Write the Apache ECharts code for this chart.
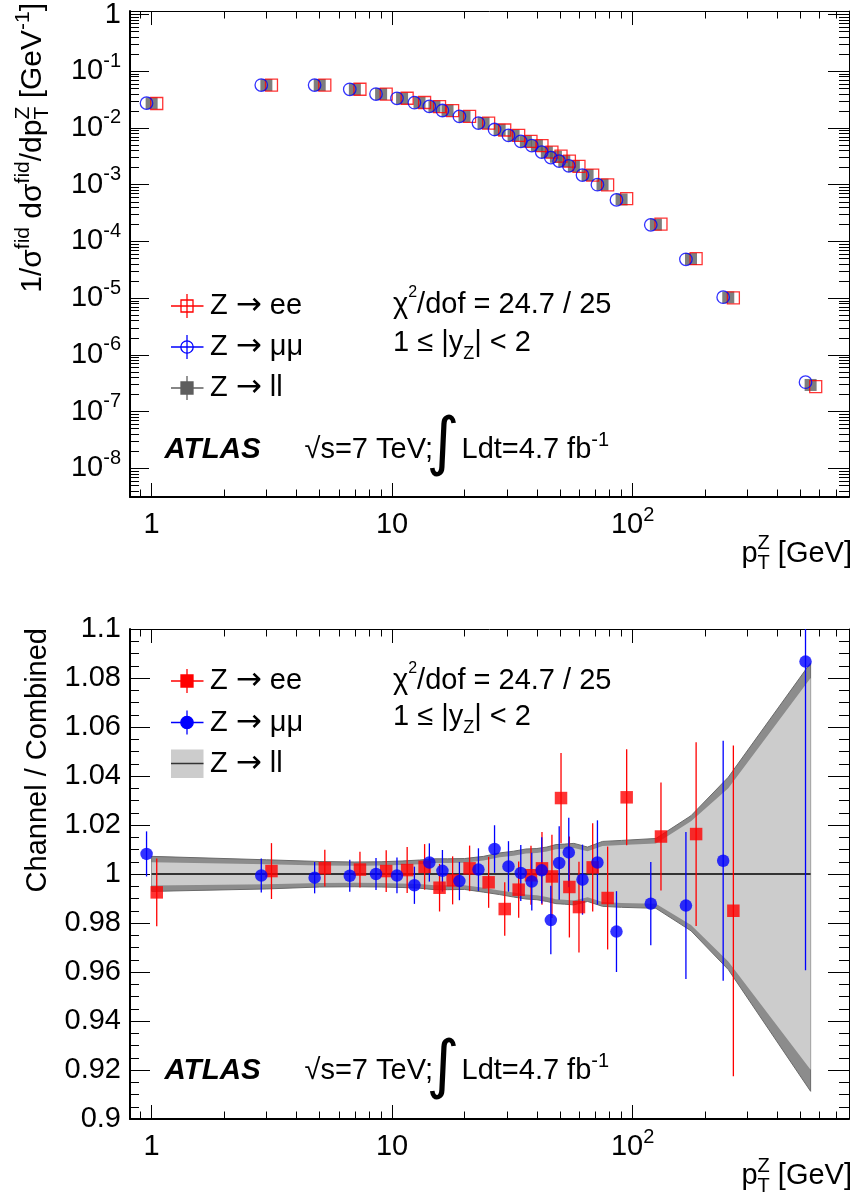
<!DOCTYPE html>
<html><head><meta charset="utf-8">
<script src="https://cdn.jsdelivr.net/npm/echarts@6/dist/echarts.min.js"></script>
<style>html,body{margin:0;padding:0;background:#fff}#c{width:855px;height:1201px}</style>
</head><body><div id="c"></div>
<script>
// ---------------- data ----------------
const ptBins = [1,3,5,7,9,11,13,15,17,20,24,28,32,36,40,44,48,52,57,65,75,90,125,175,250,550];
const xsecLL = [0.0272,0.0570,0.0570,0.0480,0.0396,0.0333,0.0280,0.0239,0.0203,0.0160,0.0122,0.0093,0.0074,0.0058,0.0049,0.00374,0.0031,0.0026,0.00213,0.00148,0.00100,0.00055,0.000198,4.9e-5,1.03e-5,2.95e-7];
const xsecEE = [0.0270,0.0571,0.0571,0.0481,0.0396,0.0334,0.0281,0.0238,0.0202,0.0160,0.0122,0.0092,0.0074,0.0058,0.0049,0.00374,0.0032,0.0026,0.00210,0.00148,0.00099,0.00057,0.000201,4.98e-5,1.01e-5,2.75e-7];
const xsecMM = [0.0274,0.0570,0.0569,0.0480,0.0396,0.0333,0.0279,0.0240,0.0203,0.0160,0.0122,0.0094,0.0074,0.0058,0.0049,0.00375,0.0030,0.0026,0.00215,0.00148,0.00100,0.00054,0.000196,4.84e-5,1.04e-5,3.3e-7];

const ratioEE = [0.9925,1.0012,1.0024,1.0018,1.0012,1.0016,1.0029,0.9944,0.9974,1.0023,0.9966,0.9857,0.9936,0.9995,1.0023,0.9990,1.0310,0.9947,0.9865,1.0027,0.9902,1.0313,1.0153,1.0163,0.9850,null];
const errEE   = [0.0138,0.0114,0.0075,0.0073,0.0085,0.0094,0.0093,0.0097,0.0098,0.0093,0.0104,0.0109,0.0115,0.0120,0.0148,0.0170,0.0184,0.0206,0.0185,0.0180,0.0210,0.0196,0.0220,0.0375,0.0675,null];
const ratioMM = [1.0082,0.9994,0.9985,0.9993,1.0000,0.9994,0.9954,1.0047,1.0013,0.9971,1.0018,1.0102,1.0031,1.0004,0.9969,1.0015,0.9812,1.0045,1.0088,0.9977,1.0047,0.9765,0.9879,0.9871,1.0054,1.0867];
const errMM   = [0.0092,0.0069,0.0064,0.0065,0.0065,0.0073,0.0076,0.0078,0.0085,0.0078,0.0087,0.0097,0.0103,0.0114,0.0118,0.0135,0.0140,0.0150,0.0142,0.0143,0.0172,0.0165,0.0170,0.0300,0.0490,0.1260];

// Z->ll uncertainty band (relative half widths around 1)
const bandOuterUp = [0.0072,0.0058,0.0051,0.0049,0.0050,0.0053,0.0057,0.0062,0.0062,0.0063,0.0072,0.0086,0.0093,0.0102,0.0104,0.0110,0.0120,0.0122,0.0125,0.0110,0.0133,0.0137,0.0145,0.0238,0.0395,0.0862];
const bandOuterDn = [0.0071,0.0061,0.0053,0.0052,0.0053,0.0055,0.0058,0.0064,0.0064,0.0063,0.0074,0.0084,0.0094,0.0102,0.0105,0.0112,0.0121,0.0123,0.0126,0.0112,0.0132,0.0136,0.0140,0.0232,0.0390,0.0887];
const bandInnerUp = [0.0048,0.0040,0.0035,0.0034,0.0035,0.0037,0.0040,0.0045,0.0045,0.0046,0.0055,0.0068,0.0075,0.0084,0.0086,0.0092,0.0101,0.0103,0.0106,0.0093,0.0114,0.0118,0.0125,0.0215,0.0350,0.0800];
const bandInnerDn = [0.0047,0.0042,0.0037,0.0036,0.0037,0.0039,0.0041,0.0046,0.0046,0.0046,0.0056,0.0067,0.0076,0.0084,0.0087,0.0094,0.0103,0.0105,0.0108,0.0095,0.0114,0.0118,0.0121,0.0208,0.0357,0.0799];

const xMajorTicks = [1, 10, 100];
const yTopMajorTicks = [1e-8,1e-7,1e-6,1e-5,1e-4,1e-3,1e-2,1e-1,1];
const yBotMajorTicks = [0.9,0.92,0.94,0.96,0.98,1,1.02,1.04,1.06,1.08,1.1];

// ---------------- styling ----------------
const FONT = '"Liberation Sans", Arial, Helvetica, sans-serif';
const L = Math.log10;
const SHIFT = 1.05;               // horizontal displacement factor of channels
const X_MIN = -0.09, X_MAX = 2.9;
const Y_MIN = -8.505, Y_MAX = 0.061;
const FS = 29;

const xMinor = [];
[0.1,1,10,100].forEach(d => { for (let k = 2; k <= 9; k++) { const v = k*d; if (L(v) > X_MIN && L(v) < X_MAX) xMinor.push(L(v)); } });
const yTopMinor = [];
for (let e = -9; e <= 0; e++) for (let k = 2; k <= 9; k++) { const v = e + L(k); if (v > Y_MIN && v < Y_MAX) yTopMinor.push(v); }
const yBotMinor = [];
for (let i = 0; i <= 40; i++) { if (i % 4) yBotMinor.push(+(0.9 + i*0.005).toFixed(4)); }

function richLab(sups) { return Object.assign({b:{fontSize:FS,fontFamily:FONT,color:'#000',lineHeight:40,verticalAlign:'middle'}}, sups); }

function axisX(grid, pos, ticks, len, line, labels) {
  return {type:'value', gridIndex:grid, position:pos, min:X_MIN, max:X_MAX,
    axisLine:{show:line>0, onZero:false, lineStyle:{color:'#000', width:line||1}},
    axisTick:{show:true, inside:true, length:len, customValues:ticks, lineStyle:{color:'#000', width:1}},
    axisLabel: labels ? {show:true, customValues:xMajorTicks.map(L), margin:8,
       formatter: v => Math.abs(v) < 1e-9 ? '{b|1}' : Math.abs(v-1) < 1e-9 ? '{b|10}' : '{b|10}{s|2}',
       rich: richLab({s:{fontSize:20,fontFamily:FONT,color:'#000',lineHeight:22,verticalAlign:'top'}})} : {show:false},
    splitLine:{show:false}};
}
function axisYTop(pos, ticks, len, line, labels) {
  return {type:'value', gridIndex:0, position:pos, min:Y_MIN, max:Y_MAX,
    axisLine:{show:line>0, onZero:false, lineStyle:{color:'#000', width:line||1}},
    axisTick:{show:true, inside:true, length:len, customValues:ticks, lineStyle:{color:'#000', width:1}},
    axisLabel: labels ? {show:true, customValues:yTopMajorTicks.map(L), margin:9,
       formatter: v => Math.abs(v) < 1e-9 ? '{b|1}' : '{b|10}{s|' + Math.round(v) + '}',
       rich: richLab({s:{fontSize:20,fontFamily:FONT,color:'#000',lineHeight:22,verticalAlign:'top'}})} : {show:false},
    splitLine:{show:false}};
}
function axisYBot(pos, ticks, len, line, labels) {
  return {type:'value', gridIndex:1, position:pos, min:0.9, max:1.1,
    axisLine:{show:line>0, onZero:false, lineStyle:{color:'#000', width:line||1}},
    axisTick:{show:true, inside:true, length:len, customValues:ticks, lineStyle:{color:'#000', width:1}},
    axisLabel: labels ? {show:true, customValues:yBotMajorTicks, margin:9,
       formatter: v => String(+(+v).toFixed(2)), fontSize:FS, fontFamily:FONT, color:'#000'} : {show:false},
    splitLine:{show:false}};
}

const xMajL = xMajorTicks.map(L);
const xAxes = [
  axisX(0,'bottom',xMajL,14,2,true), axisX(0,'bottom',xMinor,7.5,0,false),
  axisX(0,'top',xMajL,14,1,false),   axisX(0,'top',xMinor,7.5,0,false),
  axisX(1,'bottom',xMajL,14,2,true), axisX(1,'bottom',xMinor,7.5,0,false),
  axisX(1,'top',xMajL,14,1,false),   axisX(1,'top',xMinor,7.5,0,false)
];
const yAxes = [
  axisYTop('left', yTopMajorTicks.map(L), 19, 2, true), axisYTop('left', yTopMinor, 9, 0, false),
  axisYTop('right', yTopMajorTicks.map(L), 21, 1, false), axisYTop('right', yTopMinor, 10, 0, false),
  axisYBot('left', yBotMajorTicks, 20, 2, true), axisYBot('left', yBotMinor, 9, 0, false),
  axisYBot('right', yBotMajorTicks, 21, 1, false), axisYBot('right', yBotMinor, 10, 0, false)
];

function bandSeries(up, dn, fill, stroke, lw) {
  return {type:'custom', xAxisIndex:4, yAxisIndex:4, silent:true, z:1,
    data: ptBins.map((x,i) => [L(x), 1 + up[i], 1 - dn[i]]),
    encode:{x:0, y:[1,2]},
    renderItem: function(params, api) {
      if (params.dataIndex !== 0) return null;
      const pts = [];
      for (let i = 0; i < ptBins.length; i++) pts.push(api.coord([L(ptBins[i]), 1 + up[i]]));
      for (let i = ptBins.length - 1; i >= 0; i--) pts.push(api.coord([L(ptBins[i]), 1 - dn[i]]));
      return {type:'polygon', shape:{points:pts}, style:{fill:fill, stroke:stroke, lineWidth:lw}};
    }};
}
function errSeries(ratio, err, factor, color) {
  const data = [];
  ptBins.forEach((x,i) => { if (ratio[i] != null) data.push([L(x*factor), ratio[i], err[i]]); });
  return {type:'custom', xAxisIndex:4, yAxisIndex:4, silent:true, z:3, data:data, encode:{x:0, y:1},
    renderItem: function(params, api) {
      const x = api.value(0), v = api.value(1), e = api.value(2);
      const lo = Math.max(0.9, v - e), hi = Math.min(1.1, v + e);
      const p1 = api.coord([x, lo]), p2 = api.coord([x, hi]);
      return {type:'line', shape:{x1:p1[0], y1:p1[1], x2:p2[0], y2:p2[1]}, style:{stroke:color, lineWidth:1.3}};
    }};
}

const series = [
  // top panel
  {type:'scatter', name:'Z->ll', xAxisIndex:0, yAxisIndex:0, symbol:'rect', symbolSize:12, z:2,
   itemStyle:{color:'#5e5e5e'}, data: ptBins.map((x,i) => [L(x), L(xsecLL[i])])},
  {type:'scatter', name:'Z->ee', xAxisIndex:0, yAxisIndex:0, symbol:'rect', symbolSize:12, z:3,
   itemStyle:{color:'rgba(0,0,0,0)', borderColor:'#ff0000', borderWidth:1.3}, data: ptBins.map((x,i) => [L(x*SHIFT), L(xsecEE[i])])},
  {type:'scatter', name:'Z->mumu', xAxisIndex:0, yAxisIndex:0, symbol:'circle', symbolSize:12.5, z:4,
   itemStyle:{color:'rgba(0,0,0,0)', borderColor:'#0000ff', borderWidth:1.3}, data: ptBins.map((x,i) => [L(x/SHIFT), L(xsecMM[i])])},
  // bottom panel
  bandSeries(bandOuterUp, bandOuterDn, '#8c8c8c', '#6a6a6a', 1),
  bandSeries(bandInnerUp, bandInnerDn, '#cccccc', null, 0),
  {type:'line', xAxisIndex:4, yAxisIndex:4, z:2, symbol:'none', silent:true,
   lineStyle:{color:'#000', width:1.3}, data: ptBins.map(x => [L(x), 1])},
  errSeries(ratioEE, errEE, SHIFT, '#ff0000'),
  {type:'scatter', xAxisIndex:4, yAxisIndex:4, symbol:'rect', symbolSize:12.5, z:4, itemStyle:{color:'#ff0000'},
   data: ptBins.map((x,i) => ratioEE[i] == null ? null : [L(x*SHIFT), ratioEE[i]]).filter(d => d)},
  errSeries(ratioMM, errMM, 1/SHIFT, '#0000ff'),
  {type:'scatter', xAxisIndex:4, yAxisIndex:4, symbol:'circle', symbolSize:12.5, z:5, itemStyle:{color:'#0000ff'},
   data: ptBins.map((x,i) => [L(x/SHIFT), ratioMM[i]])}
];

// ---------------- texts / legends ----------------
function T(x, y, text, extra) {
  return {type:'text', x:x, y:y, z:50, style:Object.assign({text:text, fontSize:FS, fontFamily:FONT, fill:'#000', align:'left', verticalAlign:'middle'}, extra || {})};
}
const RB = {fontSize:FS, fontFamily:FONT, fill:'#000', lineHeight:40, verticalAlign:'middle'};
const RA = {fontSize:31, fontFamily:'"DejaVu Sans", sans-serif', fill:'#000', lineHeight:40, verticalAlign:'middle'};
function sup(fs, d) { return {fontSize:fs, fontFamily:FONT, fill:'#000', lineHeight:40 - 2*d, verticalAlign:'top'}; }
function sub(fs, d) { return {fontSize:fs, fontFamily:FONT, fill:'#000', lineHeight:40 - 2*d, verticalAlign:'bottom'}; }
function left(st) { return Object.assign({}, st, {align:'left'}); }
function stacked(st) { return Object.assign({}, st, {width:0.01, align:'left'}); }

function lineG(x1,y1,x2,y2,c,w) { return {type:'line', z:50, shape:{x1,y1,x2,y2}, style:{stroke:c, lineWidth:w||1.3}}; }

function panelTexts(legY, chiY, rapY, atlasY, intY, filled) {
  const g = [];
  const cx = 187;
  const legs = [
    {c:'#ff0000', sym:'rect', label:'ee'},
    {c:'#0000ff', sym:'circle', label:'μμ'},
    {c:'#5e5e5e', sym:'ll', label:'ll'}
  ];
  legs.forEach((l, k) => {
    const y = legY[k];
    if (l.sym === 'll' && filled) {
      g.push({type:'rect', z:49, shape:{x:171, y:y-14, width:32.5, height:28.5}, style:{fill:'#cccccc'}});
      g.push(lineG(171, y, 203.5, y, '#333', 1.5));
    } else {
      g.push(lineG(171, y, 203.5, y, l.c));
      g.push(lineG(cx, y-12, cx, y+12, l.c));
      const fill = filled ? l.c : (l.sym === 'll' ? l.c : 'rgba(0,0,0,0)');
      if (l.sym === 'circle') g.push({type:'circle', z:51, shape:{cx:cx, cy:y, r:6.2}, style:{fill:fill, stroke:l.c, lineWidth:1.3}});
      else g.push({type:'rect', z:51, shape:{x:cx-6, y:y-6, width:12, height:12}, style:{fill:fill, stroke:l.c, lineWidth:1.3}});
    }
    g.push(T(210, y, '{b|Z }{a|→}{b| ' + l.label + '}', {rich:{b:RB, a:RA}}));
  });
  g.push(T(393, chiY, '{b|χ}{s|2}{b|/dof = 24.7 / 25}', {rich:{b:RB, s:sup(16,4)}}));
  g.push(T(393, rapY, '{b|1 ≤ |y}{d|Z}{b|| < 2}', {rich:{b:RB, d:sub(18,16)}}));
  g.push(T(164.5, atlasY, 'ATLAS', {fontWeight:'bold', fontStyle:'italic', fontSize:29.5}));
  g.push(T(304.5, atlasY, '√s=7 TeV;'));
  g.push(T(443, intY, '∫', {fontFamily:'"DejaVu Sans", sans-serif', fontSize:64, align:'center'}));
  g.push(T(461.5, atlasY, '{b|Ldt=4.7 fb}{s|-1}', {rich:{b:RB, s:sup(20,13)}}));
  return g;
}

const xTitle = '{b|p}{t|T}{z|Z}{b| [GeV]}';
const xTitleRich = () => ({b:left(RB), t:stacked(sub(20,15)), z:left(sup(20,7))});

const graphics = [].concat(
  panelTexts([306, 347, 388], 305, 343, 450, 446, false),
  panelTexts([681, 722.5, 763.5], 680.5, 717, 1071, 1069, true),
  [
    T(852, 553.5, xTitle, {align:'right', rich:xTitleRich()}),
    T(852, 1176, xTitle, {align:'right', rich:xTitleRich()}),
    Object.assign(T(33, 3, '{b|1/σ}{s|fid}{b| dσ}{s|fid}{b|/dp}{t|T}{z|Z}{b| [GeV}{s|-1}{b|]}',
      {align:'right', rich:{b:left(Object.assign({}, RB, {fontSize:30})), s:left(sup(21,9)), t:stacked(sub(21,14)), z:left(sup(21,8))}}), {rotation:Math.PI/2}),
    Object.assign(T(38, 628, 'Channel / Combined', {align:'right'}), {rotation:Math.PI/2})
  ]
);

const option = {
  animation:false,
  backgroundColor:'#fff',
  grid:[
    {left:130, right:6, top:7, height:490, containLabel:false},
    {left:130, right:6, top:629, height:490, containLabel:false}
  ],
  xAxis: xAxes,
  yAxis: yAxes,
  series: series,
  graphic: graphics
};
const chart = echarts.init(document.getElementById('c'), null, {renderer:'canvas'});
chart.setOption(option);
</script></body></html>
